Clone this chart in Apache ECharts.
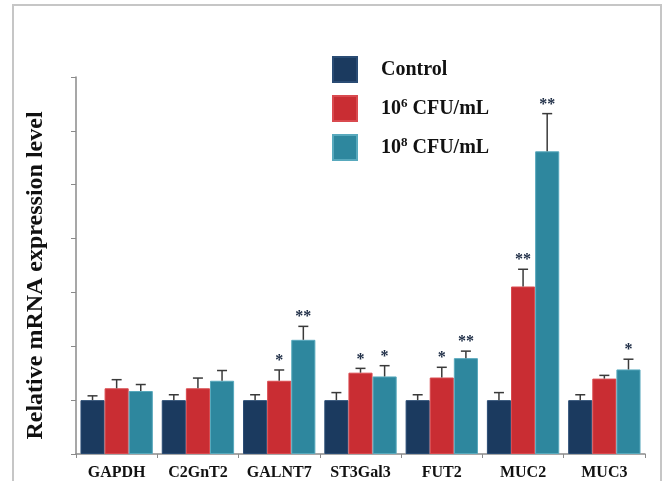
<!DOCTYPE html>
<html>
<head>
<meta charset="utf-8">
<script src="https://cdn.jsdelivr.net/npm/echarts@6/dist/echarts.min.js"></script>
<style>
html,body{margin:0;padding:0;background:#fff;}
#c{width:663px;height:481px;}
</style>
</head>
<body>
<div id="c"></div>
<script>
const categories = ['GAPDH','C2GnT2','GALNT7','ST3Gal3','FUT2','MUC2','MUC3'];
const seriesNames = ['Control','10^6 CFU/mL','10^8 CFU/mL'];
const controlVals = [1, 1, 1, 1, 1, 1, 1];
const controlErr  = [0.08, 0.10, 0.10, 0.14, 0.10, 0.14, 0.10];
const cfu6Vals    = [1.22, 1.22, 1.36, 1.51, 1.42, 3.11, 1.40];
const cfu6Err     = [0.16, 0.19, 0.20, 0.08, 0.19, 0.32, 0.06];
const cfu8Vals    = [1.17, 1.36, 2.12, 1.44, 1.78, 5.62, 1.57];
const cfu8Err     = [0.12, 0.19, 0.25, 0.20, 0.13, 0.70, 0.19];
const controlSig  = ['', '', '', '', '', '', ''];
const cfu6Sig     = ['', '', '*', '*', '*', '**', ''];
const cfu8Sig     = ['', '', '**', '*', '**', '**', '*'];
const yTicks = [0, 1, 2, 3, 4, 5, 6, 7];

const colors = ['#1b3a5f', '#c92d33', '#2e879e'];
const borders = ['#2a4c74', '#d94a4f', '#58a9bd'];
const vals = [controlVals, cfu6Vals, cfu8Vals];
const errs = [controlErr, cfu6Err, cfu8Err];
const sigs = [controlSig, cfu6Sig, cfu8Sig];

const CAT_GAP = 0.11;
const errData = [];
for (let s = 0; s < 3; s++) {
  for (let i = 0; i < categories.length; i++) {
    errData.push([i, vals[s][i], errs[s][i], s, sigs[s][i]]);
  }
}

function fmtName(n) {
  const m = n.match(/^10\^(\d) (.*)$/);
  if (m) return '{a|10}{s|' + m[1] + '}{a| ' + m[2] + '}';
  return '{a|' + n + '}';
}

const serif = '"Liberation Serif","Times New Roman",serif';

const chart = echarts.init(document.getElementById('c'));
const barSeries = seriesNames.map((n, s) => ({
  name: n,
  type: 'bar',
  data: vals[s],
  barGap: '0%',
  barCategoryGap: (CAT_GAP * 100) + '%',
  itemStyle: { color: colors[s], borderColor: borders[s], borderWidth: 1 },
  emphasis: { disabled: true },
  z: 2
}));

chart.setOption({
  animation: false,
  color: colors,
  graphic: [{
    type: 'rect',
    shape: { x: 13, y: 5, width: 648, height: 490 },
    style: { fill: 'none', stroke: '#c6c6c6', lineWidth: 2 },
    silent: true, z: -1
  }],
  legend: {
    orient: 'vertical',
    left: 327, top: 51,
    itemWidth: 24, itemHeight: 25, itemGap: 12,
    icon: 'rect',
    data: seriesNames,
    formatter: fmtName,
    textStyle: {
      padding: [0, 0, 0, 19],
      rich: {
        a: { fontFamily: serif, fontWeight: 'bold', fontSize: 20, color: '#111', lineHeight: 22 },
        s: { fontFamily: serif, fontWeight: 'bold', fontSize: 13, color: '#111', verticalAlign: 'top', lineHeight: 14 }
      }
    }
  },
  grid: { left: 76, right: 18, top: 77, bottom: 26, containLabel: false },
  xAxis: {
    type: 'category',
    data: categories,
    axisLine: { lineStyle: { color: '#8a8a8a', width: 1.5 } },
    axisTick: { show: true, length: 4, lineStyle: { color: '#8a8a8a' } },
    axisLabel: { interval: 0, fontFamily: serif, fontWeight: 'bold', fontSize: 16, color: '#111', margin: 11 }
  },
  yAxis: {
    type: 'value',
    min: yTicks[0], max: yTicks[yTicks.length - 1], interval: 1,
    name: 'Relative mRNA expression level',
    nameLocation: 'middle',
    nameRotate: 90,
    nameGap: 28,
    nameTextStyle: { fontFamily: serif, fontWeight: 'bold', fontSize: 24, color: '#111', padding: [0, 20, 0, 0] },
    axisLine: { show: true, lineStyle: { color: '#8a8a8a', width: 1.5 } },
    axisTick: { show: true, length: 5, lineStyle: { color: '#8a8a8a' } },
    axisLabel: { show: false },
    splitLine: { show: false }
  },
  series: barSeries.concat([{
    type: 'custom',
    name: 'err',
    data: errData,
    z: 3,
    silent: true,
    renderItem: function (params, api) {
      const cat = api.value(0), v = api.value(1), e = api.value(2), s = api.value(3);
      const sig = errData[params.dataIndex][4];
      const band = api.size([1, 0])[0];
      const bw = band * (1 - CAT_GAP) / 3;
      const top = api.coord([cat, v]);
      const hi = api.coord([cat, v + e]);
      const x = top[0] + (s - 1) * bw;
      const cap = 5;
      const children = [
        { type: 'line', shape: { x1: x, y1: top[1], x2: x, y2: hi[1] }, style: { stroke: '#3a3a3a', lineWidth: 1.5 } },
        { type: 'line', shape: { x1: x - cap, y1: hi[1], x2: x + cap, y2: hi[1] }, style: { stroke: '#3a3a3a', lineWidth: 1.5 } }
      ];
      if (sig) {
        children.push({
          type: 'text',
          style: {
            text: sig, x: x, y: hi[1] - 1,
            textAlign: 'center', textVerticalAlign: 'bottom',
            fontFamily: serif, fontWeight: 'bold', fontSize: 16, fill: '#1c2b44'
          }
        });
      }
      return { type: 'group', children: children };
    }
  }])
});
</script>
</body>
</html>
